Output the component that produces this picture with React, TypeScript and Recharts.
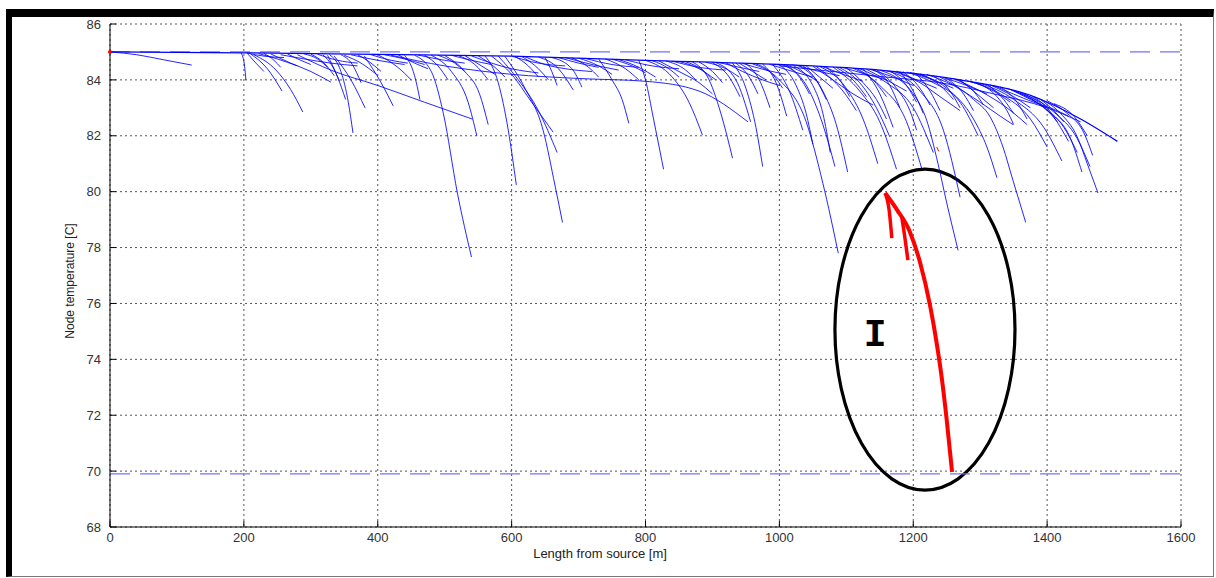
import { CartesianGrid, Line, LineChart, ReferenceArea, ReferenceDot, ReferenceLine, XAxis, YAxis } from "recharts"

type Pt = [number, number]

// main pipe from the source
const trunk: Pt[] = [
  [0, 85], [200, 84.97], [400, 84.91], [600, 84.85], [800, 84.7], [1000, 84.55],
  [1150, 84.35], [1270, 84.0], [1375, 83.45], [1450, 82.6], [1505, 81.8],
]

// long side branches (length from source [m], node temperature [C])
const branches: Pt[][] = [
  [[0, 85], [40, 84.9], [80, 84.72], [122, 84.53]],
  [[196, 84.96], [201, 84.5], [203, 84.0]],
  [[205, 84.95], [218, 84.6], [230, 84.3]],
  [[210, 84.93], [235, 84.4], [257, 83.6]],
  [[215, 84.9], [248, 84.35], [270, 83.65], [288, 82.85]],
  [[222, 84.94], [250, 84.75], [280, 84.5]],
  [[240, 84.93], [270, 84.6], [300, 84.3], [330, 83.92]],
  [[255, 84.9], [290, 84.75], [330, 84.6], [370, 84.5]],
  [[280, 84.9], [330, 84.35], [400, 83.8], [470, 83.2], [541, 82.6]],
  [[300, 84.92], [320, 84.6], [335, 84.15]],
  [[318, 84.9], [332, 84.5], [343, 83.95]],
  [[325, 84.88], [340, 84.1], [352, 83.3]],
  [[328, 84.9], [345, 84.3], [356, 83.2], [363, 82.1]],
  [[335, 84.85], [360, 84.0], [381, 83.0]],
  [[345, 84.9], [362, 84.55], [375, 83.9]],
  [[350, 84.88], [375, 84.6], [398, 84.2]],
  [[380, 84.85], [405, 83.9], [423, 83.07]],
  [[360, 84.9], [400, 84.7], [440, 84.55]],
  [[400, 84.9], [430, 84.45], [450, 84.0]],
  [[420, 84.88], [500, 84.5], [600, 84.2], [700, 84.05], [800, 83.95], [880, 83.6], [953, 82.5]],
  [[440, 84.88], [455, 84.15], [463, 83.3]],
  [[455, 84.88], [480, 84.3], [498, 82.8], [519, 79.95], [540, 77.66]],
  [[470, 84.88], [490, 84.5], [505, 84.0]],
  [[480, 84.88], [510, 84.3], [535, 83.2], [548, 82.0]],
  [[500, 84.87], [530, 84.3], [552, 83.5], [565, 82.4]],
  [[520, 84.87], [545, 84.55], [565, 84.0]],
  [[540, 84.86], [570, 84.6], [600, 84.4], [640, 84.25]],
  [[560, 84.86], [580, 83.9], [595, 82.2], [607, 80.24]],
  [[570, 84.85], [600, 84.2], [630, 83.2], [662, 82.13]],
  [[580, 84.85], [610, 84.0], [640, 82.9], [668, 81.4]],
  [[590, 84.84], [620, 83.7], [647, 82.2], [665, 80.2], [676, 78.9]],
  [[605, 84.84], [625, 84.5], [640, 84.1]],
  [[620, 84.83], [650, 84.55], [680, 84.4], [720, 84.3]],
  [[640, 84.82], [670, 84.4], [692, 83.64]],
  [[650, 84.8], [660, 84.3], [668, 83.8]],
  [[660, 84.8], [690, 84.4], [705, 83.74]],
  [[680, 84.8], [720, 84.55], [760, 84.35]],
  [[700, 84.78], [730, 84.5], [750, 84.2]],
  [[730, 84.75], [750, 84.0], [765, 83.3], [775, 82.45]],
  [[740, 84.75], [770, 84.4], [790, 84.0]],
  [[760, 84.73], [790, 84.45], [815, 84.1]],
  [[790, 84.7], [800, 84.0], [812, 82.6], [827, 80.8]],
  [[800, 84.7], [840, 84.1], [865, 83.2], [885, 82.03]],
  [[820, 84.68], [850, 84.3], [880, 83.9], [900, 83.5]],
  [[830, 84.68], [860, 84.35], [875, 84.0]],
  [[850, 84.66], [880, 84.4], [905, 84.0]],
  [[870, 84.64], [895, 84.0], [915, 82.6], [930, 81.2]],
  [[880, 84.64], [900, 84.3], [915, 83.9]],
  [[900, 84.62], [925, 84.1], [941, 83.4]],
  [[905, 84.62], [935, 84.0], [957, 82.5]],
  [[920, 84.61], [945, 84.3], [975, 84.0], [1000, 83.8]],
  [[930, 84.6], [950, 83.7], [965, 82.3], [975, 80.9]],
  [[940, 84.6], [960, 84.3], [980, 84.0]],
  [[950, 84.58], [970, 84.0], [986, 83.0]],
  [[960, 84.57], [1000, 84.0], [1040, 82.5], [1065, 80.3], [1088, 77.8]],
  [[975, 84.56], [995, 83.9], [1011, 82.7]],
  [[990, 84.55], [1015, 83.6], [1035, 82.2]],
  [[1000, 84.55], [1025, 83.8], [1040, 82.8], [1050, 81.7]],
  [[1000, 84.5], [1080, 84.3], [1160, 84.1], [1240, 83.9], [1320, 83.5], [1400, 83.0], [1450, 82.5]],
  [[1010, 84.54], [1045, 83.6], [1065, 82.4], [1083, 80.9]],
  [[1015, 84.5], [1040, 84.2], [1060, 83.9]],
  [[1020, 84.52], [1050, 83.8], [1065, 82.8], [1076, 81.4]],
  [[1030, 84.5], [1065, 83.6], [1085, 82.4], [1102, 80.7]],
  [[1040, 84.5], [1060, 84.1], [1080, 83.7]],
  [[1050, 84.49], [1080, 84.0], [1110, 83.5], [1140, 83.1]],
  [[1060, 84.48], [1100, 83.7], [1125, 82.6], [1147, 81.0]],
  [[1070, 84.46], [1090, 84.0], [1105, 83.4]],
  [[1080, 84.46], [1120, 83.6], [1150, 82.5], [1175, 80.8]],
  [[1090, 84.44], [1120, 83.9], [1145, 83.0], [1165, 81.96]],
  [[1100, 84.43], [1125, 83.9], [1145, 83.3], [1160, 82.6]],
  [[1110, 84.42], [1150, 83.8], [1190, 82.5], [1213, 80.8]],
  [[1120, 84.4], [1160, 83.9], [1200, 83.0], [1230, 81.4]],
  [[1130, 84.38], [1160, 84.0], [1190, 83.6]],
  [[1140, 84.37], [1165, 83.8], [1180, 83.0]],
  [[1150, 84.35], [1200, 83.5], [1220, 82.56], [1237, 81.0], [1250, 79.6], [1267, 77.9]],
  [[1160, 84.33], [1210, 83.6], [1245, 82.2], [1270, 79.8]],
  [[1170, 84.31], [1210, 83.9], [1240, 83.4], [1270, 82.9]],
  [[1180, 84.3], [1200, 83.6], [1215, 82.8]],
  [[1190, 84.28], [1230, 83.9], [1270, 83.2], [1297, 82.0]],
  [[1200, 84.25], [1250, 83.7], [1290, 82.6], [1310, 81.6], [1325, 80.5]],
  [[1205, 84.2], [1225, 83.6], [1240, 82.9]],
  [[1220, 84.2], [1260, 83.8], [1300, 83.2], [1330, 82.7], [1349, 82.4]],
  [[1240, 84.1], [1290, 83.3], [1315, 82.67], [1334, 81.6], [1349, 80.4], [1368, 78.9]],
  [[1250, 84.05], [1275, 83.5], [1290, 82.9]],
  [[1260, 84.05], [1300, 83.6], [1340, 83.0], [1370, 82.4]],
  [[1270, 84.0], [1300, 83.4], [1320, 83.0]],
  [[1280, 83.97], [1330, 83.5], [1375, 82.6], [1400, 81.6]],
  [[1300, 83.88], [1350, 83.3], [1395, 82.3], [1422, 81.1]],
  [[1310, 83.85], [1335, 83.3], [1350, 82.8]],
  [[1320, 83.8], [1380, 83.2], [1415, 82.9], [1432, 82.7]],
  [[1340, 83.7], [1390, 83.1], [1425, 82.3], [1445, 81.4]],
  [[1350, 83.62], [1400, 82.9], [1435, 81.9], [1452, 80.7]],
  [[1360, 83.55], [1410, 82.85], [1445, 81.9], [1464, 80.9]],
  [[1380, 83.4], [1420, 82.8], [1445, 81.96], [1460, 81.0], [1476, 79.95]],
  [[1390, 83.3], [1410, 82.9], [1425, 82.5]],
]

// short twigs filling the band just under the main pipe
const twigs: Pt[][] = [
  [[205, 84.96], [230, 84.85], [260, 84.8]],
  [[230, 84.95], [245, 84.7], [255, 84.45]],
  [[265, 84.93], [285, 84.7], [300, 84.55]],
  [[290, 84.93], [310, 84.75], [325, 84.45]],
  [[310, 84.92], [340, 84.7], [370, 84.6]],
  [[370, 84.9], [390, 84.6], [405, 84.3]],
  [[390, 84.9], [420, 84.7], [445, 84.6]],
  [[410, 84.9], [440, 84.75], [470, 84.55]],
  [[430, 84.9], [455, 84.6], [475, 84.4]],
  [[460, 84.89], [500, 84.7], [530, 84.6]],
  [[490, 84.88], [515, 84.6], [530, 84.3]],
  [[510, 84.88], [540, 84.7], [570, 84.55]],
  [[530, 84.87], [555, 84.5], [575, 84.2]],
  [[550, 84.86], [575, 84.45], [590, 84.1]],
  [[600, 84.85], [640, 84.6], [680, 84.5]],
  [[615, 84.84], [640, 84.4], [655, 84.0]],
  [[670, 84.8], [700, 84.6], [730, 84.45]],
  [[690, 84.79], [715, 84.45], [730, 84.1]],
  [[710, 84.77], [750, 84.55], [790, 84.45]],
  [[750, 84.74], [780, 84.5], [800, 84.25]],
  [[770, 84.72], [810, 84.5], [850, 84.4]],
  [[810, 84.69], [835, 84.4], [850, 84.1]],
  [[840, 84.67], [880, 84.45], [920, 84.35]],
  [[860, 84.65], [885, 84.35], [900, 84.0]],
  [[890, 84.63], [920, 84.4], [940, 84.1]],
  [[910, 84.62], [940, 84.45], [970, 84.3]],
  [[935, 84.6], [955, 84.1], [968, 83.5]],
  [[945, 84.59], [980, 84.35], [1010, 84.2]],
  [[965, 84.57], [990, 84.2], [1005, 83.7]],
  [[985, 84.56], [1020, 84.3], [1050, 84.1]],
  [[1005, 84.54], [1030, 84.1], [1045, 83.5]],
  [[1025, 84.52], [1060, 84.3], [1090, 84.15]],
  [[1035, 84.51], [1055, 84.0], [1070, 83.3]],
  [[1055, 84.48], [1075, 84.1], [1095, 83.6], [1115, 82.9]],
  [[1065, 84.47], [1095, 84.2], [1125, 83.95]],
  [[1085, 84.45], [1110, 84.0], [1130, 83.4]],
  [[1095, 84.44], [1130, 84.2], [1160, 84.0]],
  [[1115, 84.41], [1140, 84.0], [1160, 83.4]],
  [[1125, 84.4], [1150, 83.5], [1170, 82.3]],
  [[1135, 84.38], [1170, 84.1], [1200, 83.8]],
  [[1145, 84.36], [1175, 83.7], [1195, 82.9], [1205, 82.2]],
  [[1165, 84.32], [1190, 83.8], [1205, 83.2]],
  [[1175, 84.31], [1205, 84.0], [1235, 83.7]],
  [[1185, 84.29], [1210, 83.7], [1225, 83.1]],
  [[1195, 84.27], [1230, 84.0], [1260, 83.7]],
  [[1210, 84.22], [1240, 83.8], [1260, 83.3]],
  [[1230, 84.15], [1255, 83.6], [1270, 83.0]],
  [[1245, 84.08], [1280, 83.8], [1310, 83.5]],
  [[1265, 84.02], [1290, 83.6], [1305, 83.1]],
  [[1285, 83.95], [1320, 83.6], [1345, 83.2]],
  [[1295, 83.9], [1325, 83.4], [1340, 82.9], [1350, 82.4]],
  [[1315, 83.82], [1350, 83.4], [1375, 83.0]],
  [[1330, 83.75], [1355, 83.2], [1370, 82.6]],
  [[1345, 83.66], [1375, 83.3], [1400, 83.0]],
  [[1365, 83.5], [1395, 83.05], [1415, 82.5]],
  [[1375, 83.45], [1400, 83.0], [1420, 82.3], [1432, 81.8]],
  [[1400, 83.25], [1430, 82.8], [1455, 82.1], [1468, 81.3]],
  [[1410, 83.15], [1440, 82.7], [1460, 82.0]],
]

// highlighted (red) path inside the ellipse
const redMain: Pt[] = [
  [1158, 79.95], [1176, 79.34], [1195, 78.56], [1210, 77.48], [1225, 75.94],
  [1235, 74.58], [1243, 73.26], [1250, 71.83], [1258, 69.97],
]
const redSubs: Pt[][] = [
  [[1158, 79.95], [1164, 79.34], [1168, 78.34]],
  [[1183, 79.06], [1188, 78.27], [1192, 77.55]],
  [[1235, 81.6], [1238, 81.45]],
]

const xTicks = [0, 200, 400, 600, 800, 1000, 1200, 1400, 1600]
const yTicks = [68, 70, 72, 74, 76, 78, 80, 82, 84, 86]
const limitLevels = [85, 69.9]
const ellipseBox = { x1: 1083, x2: 1352, y1: 69.32, y2: 80.81 }
const markLabel = { x: 1143, y: 74.87, text: "I" }

const toPts = (arr: Pt[]) => arr.map(([x, y]) => ({ x, y }))

const tickStyle = { fill: "#333", fontSize: 13, fontFamily: "Liberation Sans, Arial, sans-serif" }

export default function App() {
  const blue = [...branches, ...twigs]
  return (
    <div style={{ position: "absolute", left: 0, top: 0, width: 1216, height: 578, background: "#fff" }}>
      <div
        style={{
          position: "absolute",
          left: 6,
          top: 9,
          width: 1208,
          height: 568,
          boxSizing: "border-box",
          borderTop: "8px solid #000",
          borderLeft: "6px solid #000",
          borderRight: "1px solid #777",
          borderBottom: "1px solid #777",
        }}
      />
      <div style={{ position: "absolute", left: 0, top: 0 }}>
        <LineChart width={1216} height={578} margin={{ top: 24, right: 35, bottom: 21, left: 30 }}>
          <CartesianGrid stroke="#555" strokeDasharray="2 3" />
          <XAxis
            dataKey="x"
            type="number"
            domain={[0, 1600]}
            ticks={xTicks}
            height={30}
            tickSize={-6}
            tickMargin={12}
            tick={tickStyle}
            axisLine={{ stroke: "#000" }}
            tickLine={{ stroke: "#000" }}
          />
          <YAxis
            type="number"
            domain={[68, 86]}
            ticks={yTicks}
            width={80}
            tickSize={-6}
            tickMargin={15}
            tick={tickStyle}
            axisLine={{ stroke: "#000" }}
            tickLine={{ stroke: "#000" }}
          />
          {limitLevels.map((v) => (
            <ReferenceLine key={v} y={v} stroke="#7272ff" strokeWidth={1.3} strokeDasharray="20 10" />
          ))}
          <Line
            data={toPts(trunk)}
            dataKey="y"
            type="monotone"
            stroke="#0000ff"
            strokeWidth={1.3}
            dot={false}
            activeDot={false}
            isAnimationActive={false}
          />
          {blue.map((b, i) => (
            <Line
              key={"b" + i}
              data={toPts(b)}
              dataKey="y"
              type="monotone"
              stroke="#0000ff"
              strokeWidth={1}
              strokeOpacity={0.85}
              dot={false}
              activeDot={false}
              isAnimationActive={false}
            />
          ))}
          <Line
            data={toPts(redMain)}
            dataKey="y"
            type="monotone"
            stroke="#ff0000"
            strokeWidth={4}
            dot={false}
            activeDot={false}
            isAnimationActive={false}
          />
          {redSubs.map((b, i) => (
            <Line
              key={"r" + i}
              data={toPts(b)}
              dataKey="y"
              type="monotone"
              stroke="#ff0000"
              strokeWidth={i === 2 ? 1 : 3.5}
              dot={false}
              activeDot={false}
              isAnimationActive={false}
            />
          ))}
          <ReferenceDot x={0} y={85} r={2} fill="#ff0000" stroke="none" />
          <ReferenceArea
            x1={ellipseBox.x1}
            x2={ellipseBox.x2}
            y1={ellipseBox.y1}
            y2={ellipseBox.y2}
            shape={(p: any) => (
              <ellipse
                cx={p.x + p.width / 2}
                cy={p.y + p.height / 2}
                rx={Math.abs(p.width) / 2}
                ry={Math.abs(p.height) / 2}
                fill="none"
                stroke="#000"
                strokeWidth={3.2}
              />
            )}
          />
          <ReferenceDot
            x={markLabel.x}
            y={markLabel.y}
            r={1}
            shape={(p: any) => (
              <text
                x={p.cx}
                y={p.cy}
                textAnchor="middle"
                dominantBaseline="central"
                fontFamily="Liberation Mono, monospace"
                fontWeight="bold"
                fontSize={38}
                fill="#000"
              >
                {markLabel.text}
              </text>
            )}
          />
        </LineChart>
      </div>
      <div
        style={{
          position: "absolute",
          left: 450,
          width: 300,
          top: 547,
          textAlign: "center",
          fontFamily: "Liberation Sans, Arial, sans-serif",
          fontSize: 13,
          lineHeight: "13px",
          color: "#222",
        }}
      >
        Length from source [m]
      </div>
      <div
        style={{
          position: "absolute",
          left: 70,
          top: 281,
          transform: "translate(-50%, -50%) rotate(-90deg)",
          whiteSpace: "nowrap",
          fontFamily: "Liberation Sans, Arial, sans-serif",
          fontSize: 12,
          lineHeight: "13px",
          color: "#222",
        }}
      >
        Node temperature [C]
      </div>
    </div>
  )
}
